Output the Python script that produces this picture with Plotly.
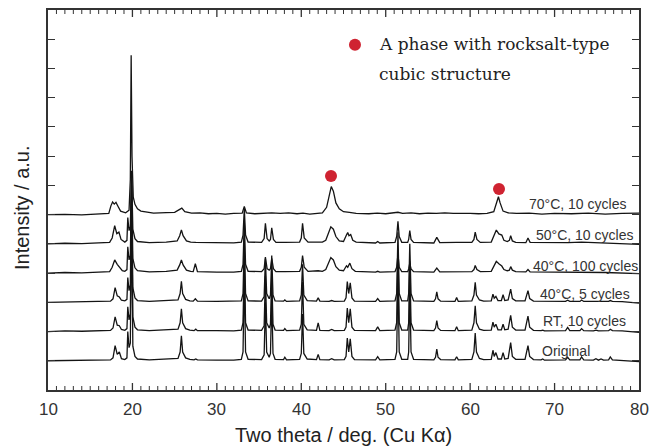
import plotly.graph_objects as go

# ---------------- data (2θ in degrees, intensity relative to each pattern's baseline) ----------------
pattern_names = ["Original", "RT, 10 cycles", "40°C, 5 cycles", "40°C, 100 cycles", "50°C, 10 cycles", "70°C, 10 cycles"]
baseline_offsets = [1, 2, 3, 4, 5, 6]

original = [
    (10.0, 0.0), (12.0, 0.01), (14.0, 0.0), (16.0, 0.02), (17.4, 0.03),
    (17.7, 0.1), (17.95, 0.52), (18.2, 0.22), (18.45, 0.3), (18.7, 0.07), (19.1, 0.04),
    (19.35, 0.1), (19.45, 1.0), (19.6, 0.45), (19.75, 0.6), (19.9, 5.0), (20.05, 0.5), (20.3, 0.15), (20.6, 0.06),
    (22.0, 0.03), (24.0, 0.05), (25.4, 0.08), (25.65, 0.3), (25.8, 0.85), (25.95, 0.3), (26.3, 0.1), (26.8, 0.05),
    (27.3, 0.03), (27.5, 0.06), (27.7, 0.03), (30.0, 0.02), (32.0, 0.02), (32.9, 0.05),
    (33.1, 0.3), (33.25, 3.0), (33.4, 0.3), (33.7, 0.05),
    (35.3, 0.04), (35.6, 0.2), (35.75, 2.0), (35.9, 0.3), (36.2, 0.12), (36.35, 0.25), (36.5, 2.2), (36.65, 0.25), (36.9, 0.05),
    (37.9, 0.04), (38.05, 0.12), (38.25, 0.03),
    (39.8, 0.05), (40.0, 0.25), (40.15, 1.6), (40.3, 0.25), (40.7, 0.06),
    (41.8, 0.04), (42.0, 0.22), (42.2, 0.04), (43.3, 0.03), (43.6, 0.07), (43.9, 0.03),
    (45.1, 0.04), (45.3, 0.15), (45.45, 0.78), (45.62, 0.3), (45.8, 0.75), (46.0, 0.15), (46.3, 0.04),
    (48.8, 0.03), (49.05, 0.14), (49.3, 0.03),
    (51.1, 0.05), (51.3, 0.3), (51.45, 3.0), (51.6, 0.3), (51.9, 0.05),
    (52.6, 0.05), (52.72, 0.3), (52.85, 2.6), (53.0, 0.3), (53.3, 0.05),
    (55.7, 0.03), (55.9, 0.12), (56.05, 0.4), (56.2, 0.12), (56.5, 0.04),
    (58.2, 0.03), (58.4, 0.14), (58.6, 0.03),
    (60.2, 0.05), (60.45, 0.3), (60.6, 0.95), (60.75, 0.3), (61.1, 0.08), (61.6, 0.04),
    (62.5, 0.05), (62.7, 0.36), (62.85, 0.15), (63.05, 0.28), (63.3, 0.06), (63.7, 0.06), (63.9, 0.28), (64.1, 0.06),
    (64.5, 0.08), (64.8, 0.62), (65.0, 0.15), (65.4, 0.05),
    (66.5, 0.05), (66.85, 0.52), (67.05, 0.15), (67.5, 0.04),
    (68.4, 0.03), (68.6, 0.06), (68.8, 0.02), (70.0, 0.02), (71.3, 0.03), (71.55, 0.12), (71.8, 0.03),
    (73.0, 0.03), (73.2, 0.13), (73.45, 0.03), (74.6, 0.02), (74.9, 0.07), (75.2, 0.02), (75.5, 0.06), (75.8, 0.02),
    (76.4, 0.03), (76.6, 0.13), (76.85, 0.03), (78.0, 0.01), (80.0, -0.03),
]

rt_10 = [
    (10.0, 0.0), (12.0, 0.02), (14.0, 0.01), (16.0, 0.02), (17.4, 0.04),
    (17.7, 0.12), (17.95, 0.5), (18.2, 0.22), (18.45, 0.2), (18.7, 0.07), (19.1, 0.04),
    (19.35, 0.1), (19.45, 0.85), (19.6, 0.4), (19.75, 0.6), (19.9, 4.5), (20.05, 0.5), (20.3, 0.15), (20.6, 0.06),
    (22.0, 0.03), (24.0, 0.05), (25.4, 0.08), (25.65, 0.3), (25.8, 0.78), (25.95, 0.3), (26.3, 0.1), (26.8, 0.05),
    (27.3, 0.03), (27.5, 0.08), (27.7, 0.03), (30.0, 0.03), (32.0, 0.02), (32.9, 0.05),
    (33.1, 0.3), (33.25, 2.6), (33.4, 0.3), (33.7, 0.05),
    (35.3, 0.04), (35.6, 0.2), (35.75, 1.9), (35.9, 0.3), (36.2, 0.12), (36.35, 0.25), (36.5, 2.0), (36.65, 0.25), (36.9, 0.05),
    (37.9, 0.04), (38.05, 0.1), (38.25, 0.03),
    (39.8, 0.05), (40.0, 0.25), (40.15, 1.7), (40.3, 0.25), (40.7, 0.06),
    (41.8, 0.04), (42.0, 0.3), (42.2, 0.04), (43.3, 0.03), (43.6, 0.07), (43.9, 0.03),
    (45.1, 0.04), (45.3, 0.15), (45.45, 0.8), (45.62, 0.3), (45.8, 0.78), (46.0, 0.15), (46.3, 0.04),
    (48.8, 0.03), (49.05, 0.16), (49.3, 0.03),
    (51.1, 0.05), (51.3, 0.3), (51.45, 2.8), (51.6, 0.3), (51.9, 0.05),
    (52.6, 0.05), (52.72, 0.3), (52.85, 2.4), (53.0, 0.3), (53.3, 0.05),
    (55.7, 0.03), (55.9, 0.12), (56.05, 0.37), (56.2, 0.12), (56.5, 0.04),
    (58.2, 0.03), (58.4, 0.16), (58.6, 0.03),
    (60.2, 0.05), (60.45, 0.3), (60.6, 0.88), (60.75, 0.3), (61.1, 0.08), (61.6, 0.04),
    (62.5, 0.05), (62.7, 0.32), (62.85, 0.15), (63.05, 0.25), (63.3, 0.06), (63.7, 0.06), (63.9, 0.25), (64.1, 0.06),
    (64.5, 0.08), (64.8, 0.55), (65.0, 0.15), (65.4, 0.05),
    (66.5, 0.05), (66.85, 0.53), (67.05, 0.15), (67.5, 0.04),
    (68.4, 0.03), (68.6, 0.05), (68.8, 0.02), (70.0, 0.03), (71.3, 0.03), (71.55, 0.14), (71.8, 0.03),
    (73.0, 0.03), (73.2, 0.1), (73.45, 0.03), (74.6, 0.02), (74.9, 0.05), (75.2, 0.02),
    (76.4, 0.03), (76.6, 0.08), (76.85, 0.03), (78.0, 0.02), (80.0, -0.03),
]

c40_5 = [
    (10.0, 0.0), (12.0, 0.01), (14.0, 0.02), (16.0, 0.02), (17.4, 0.04),
    (17.7, 0.12), (17.95, 0.5), (18.2, 0.22), (18.45, 0.18), (18.7, 0.07), (19.1, 0.05),
    (19.35, 0.1), (19.45, 0.85), (19.6, 0.4), (19.75, 0.6), (19.9, 4.0), (20.05, 0.5), (20.3, 0.15), (20.6, 0.06),
    (22.0, 0.03), (24.0, 0.05), (25.4, 0.08), (25.65, 0.3), (25.8, 0.72), (25.95, 0.3), (26.3, 0.1), (26.8, 0.05),
    (27.2, 0.04), (27.45, 0.12), (27.7, 0.04), (30.0, 0.03), (32.0, 0.03), (32.9, 0.05),
    (33.1, 0.3), (33.25, 2.2), (33.4, 0.3), (33.7, 0.05),
    (35.3, 0.04), (35.6, 0.2), (35.75, 1.5), (35.9, 0.3), (36.2, 0.12), (36.35, 0.25), (36.5, 1.6), (36.65, 0.25), (36.9, 0.05),
    (37.9, 0.04), (38.05, 0.08), (38.25, 0.03),
    (39.8, 0.05), (40.0, 0.25), (40.15, 1.3), (40.3, 0.25), (40.7, 0.06),
    (41.8, 0.04), (42.0, 0.15), (42.2, 0.04), (43.3, 0.03), (43.6, 0.06), (43.9, 0.03),
    (45.1, 0.04), (45.3, 0.15), (45.45, 0.71), (45.62, 0.3), (45.8, 0.67), (46.0, 0.15), (46.3, 0.04),
    (48.8, 0.03), (49.05, 0.13), (49.3, 0.03),
    (51.1, 0.05), (51.3, 0.3), (51.45, 2.4), (51.6, 0.3), (51.9, 0.05),
    (52.6, 0.05), (52.72, 0.3), (52.85, 2.0), (53.0, 0.3), (53.3, 0.05),
    (55.7, 0.03), (55.9, 0.12), (56.05, 0.36), (56.2, 0.12), (56.5, 0.04),
    (58.2, 0.03), (58.4, 0.16), (58.6, 0.03),
    (60.2, 0.05), (60.45, 0.25), (60.6, 0.68), (60.75, 0.25), (61.1, 0.08), (61.6, 0.04),
    (62.5, 0.05), (62.7, 0.28), (62.85, 0.14), (63.05, 0.2), (63.3, 0.06), (63.7, 0.06), (63.9, 0.26), (64.1, 0.06),
    (64.5, 0.08), (64.8, 0.45), (65.0, 0.13), (65.4, 0.05),
    (66.5, 0.05), (66.85, 0.4), (67.05, 0.13), (67.5, 0.04),
    (68.6, 0.04), (70.0, 0.03), (71.3, 0.03), (71.55, 0.07), (71.8, 0.03),
    (73.0, 0.03), (73.2, 0.08), (73.45, 0.03), (75.0, 0.02), (76.4, 0.03), (76.6, 0.06), (76.85, 0.03),
    (78.0, 0.02), (80.0, -0.03),
]

c40_100 = [
    (10.0, 0.0), (12.0, 0.02), (14.0, 0.01), (16.0, 0.03), (17.3, 0.05),
    (17.6, 0.2), (17.9, 0.45), (18.2, 0.3), (18.5, 0.18), (18.8, 0.08), (19.1, 0.06),
    (19.35, 0.12), (19.45, 0.9), (19.6, 0.45), (19.75, 0.6), (19.9, 3.2), (20.05, 0.5), (20.3, 0.18), (20.6, 0.08),
    (22.0, 0.04), (24.0, 0.06), (25.3, 0.1), (25.6, 0.28), (25.8, 0.45), (26.0, 0.28), (26.4, 0.1), (26.9, 0.06),
    (27.2, 0.05), (27.45, 0.32), (27.7, 0.05), (30.0, 0.03), (32.0, 0.03), (32.9, 0.06),
    (33.1, 0.3), (33.25, 1.8), (33.4, 0.3), (33.7, 0.06),
    (35.3, 0.05), (35.6, 0.15), (35.75, 0.55), (35.95, 0.15), (36.2, 0.1), (36.35, 0.15), (36.5, 0.5), (36.7, 0.15), (37.0, 0.05),
    (38.05, 0.05), (39.8, 0.06), (40.0, 0.2), (40.15, 0.6), (40.35, 0.2), (40.8, 0.06),
    (42.0, 0.08), (42.5, 0.06), (42.9, 0.12), (43.2, 0.35), (43.5, 0.53), (43.8, 0.45), (44.1, 0.22), (44.5, 0.1),
    (45.0, 0.08), (45.35, 0.25), (45.5, 0.2), (45.75, 0.34), (46.0, 0.15), (46.4, 0.06),
    (48.8, 0.03), (49.05, 0.06), (49.3, 0.03),
    (51.1, 0.05), (51.3, 0.2), (51.45, 0.65), (51.6, 0.2), (51.9, 0.05),
    (52.6, 0.05), (52.72, 0.14), (52.85, 0.34), (53.0, 0.14), (53.3, 0.05),
    (55.7, 0.03), (56.05, 0.17), (56.4, 0.04),
    (58.4, 0.05), (60.2, 0.05), (60.45, 0.12), (60.6, 0.26), (60.8, 0.12), (61.2, 0.05),
    (62.5, 0.06), (62.8, 0.25), (63.1, 0.4), (63.4, 0.32), (63.75, 0.24), (64.0, 0.12), (64.4, 0.08),
    (64.65, 0.1), (64.8, 0.22), (65.0, 0.1), (65.4, 0.05),
    (66.6, 0.04), (66.85, 0.12), (67.1, 0.04), (70.0, 0.03), (73.2, 0.04), (76.0, 0.02), (80.0, -0.02),
]

c50_10 = [
    (10.0, 0.0), (12.0, 0.02), (14.0, 0.01), (16.0, 0.03), (17.3, 0.05),
    (17.6, 0.2), (17.9, 0.62), (18.15, 0.35), (18.4, 0.4), (18.65, 0.15), (19.1, 0.06),
    (19.35, 0.12), (19.45, 0.9), (19.6, 0.45), (19.75, 0.6), (19.9, 2.5), (20.05, 0.5), (20.3, 0.18), (20.6, 0.08),
    (22.0, 0.04), (24.0, 0.06), (25.3, 0.1), (25.6, 0.28), (25.8, 0.48), (26.0, 0.28), (26.4, 0.1), (26.9, 0.06),
    (27.5, 0.05), (30.0, 0.03), (32.0, 0.03), (32.9, 0.06),
    (33.1, 0.3), (33.25, 1.2), (33.4, 0.3), (33.7, 0.06),
    (35.3, 0.05), (35.6, 0.18), (35.75, 0.7), (35.95, 0.18), (36.2, 0.1), (36.35, 0.15), (36.5, 0.55), (36.7, 0.15), (37.0, 0.05),
    (38.05, 0.05), (39.8, 0.06), (40.0, 0.2), (40.15, 0.7), (40.35, 0.2), (40.8, 0.06),
    (42.0, 0.06), (42.5, 0.06), (42.9, 0.12), (43.2, 0.38), (43.5, 0.58), (43.8, 0.5), (44.1, 0.25), (44.5, 0.1),
    (45.0, 0.08), (45.35, 0.3), (45.5, 0.39), (45.65, 0.28), (45.85, 0.32), (46.1, 0.12), (46.5, 0.06),
    (48.8, 0.03), (49.05, 0.08), (49.3, 0.03),
    (51.1, 0.05), (51.3, 0.25), (51.45, 0.77), (51.6, 0.25), (51.9, 0.05),
    (52.6, 0.05), (52.72, 0.15), (52.85, 0.45), (53.0, 0.15), (53.3, 0.05),
    (55.7, 0.03), (56.05, 0.22), (56.4, 0.04),
    (58.4, 0.05), (60.2, 0.05), (60.45, 0.15), (60.6, 0.4), (60.8, 0.15), (61.2, 0.05),
    (62.5, 0.06), (62.8, 0.25), (63.1, 0.47), (63.4, 0.34), (63.75, 0.3), (64.0, 0.12), (64.4, 0.08),
    (64.65, 0.12), (64.8, 0.28), (65.0, 0.1), (65.4, 0.05),
    (66.6, 0.04), (66.85, 0.2), (67.1, 0.05), (70.0, 0.03), (71.6, 0.04), (73.2, 0.06), (76.0, 0.02), (80.0, -0.02),
]

c70_10 = [
    (10.0, 0.0), (12.0, 0.01), (14.0, -0.01), (16.0, 0.02), (17.2, 0.04),
    (17.45, 0.3), (17.65, 0.43), (17.85, 0.36), (18.05, 0.42), (18.3, 0.28), (18.6, 0.12), (19.2, 0.06),
    (19.6, 0.15), (19.75, 1.2), (19.85, 5.45), (19.95, 2.0), (20.1, 0.6), (20.3, 0.35), (20.6, 0.2),
    (21.0, 0.12), (21.5, 0.1), (22.5, 0.05), (24.0, 0.07), (25.0, 0.08), (25.6, 0.18), (25.85, 0.22), (26.2, 0.1),
    (27.0, 0.05), (28.0, 0.06), (29.0, 0.03), (30.0, 0.04), (31.0, 0.02), (32.0, 0.04),
    (33.0, 0.05), (33.25, 0.28), (33.5, 0.06), (34.5, 0.03), (35.5, 0.05), (36.5, 0.06), (37.5, 0.04),
    (38.5, 0.06), (39.5, 0.03), (40.2, 0.05), (41.0, 0.02), (42.0, 0.03), (42.5, 0.06),
    (43.0, 0.25), (43.3, 0.7), (43.55, 0.96), (43.8, 0.8), (44.1, 0.4), (44.5, 0.2), (45.0, 0.1),
    (45.7, 0.08), (46.5, 0.04), (48.0, 0.03), (49.0, 0.05), (50.0, 0.03), (51.45, 0.08), (52.0, 0.04),
    (53.0, 0.06), (54.0, 0.03), (55.0, 0.05), (56.0, 0.04), (57.0, 0.06), (58.0, 0.04), (59.0, 0.05),
    (60.0, 0.04), (61.0, 0.03), (62.0, 0.04), (62.8, 0.1), (63.15, 0.4), (63.35, 0.61), (63.55, 0.4),
    (63.9, 0.12), (64.5, 0.06), (65.5, 0.04), (67.0, 0.05), (68.5, 0.02), (70.0, 0.04), (72.0, 0.03),
    (74.0, 0.05), (76.0, 0.02), (78.0, 0.04), (80.0, 0.05),
]

patterns = [original, rt_10, c40_5, c40_100, c50_10, c70_10]

# rocksalt-type phase reflections (2θ, intensity level)
rocksalt_x = [43.52, 63.42]
rocksalt_y = [7.32, 6.88]

# label anchor positions (2θ, intensity level)
label_x = [68.27, 68.39, 68.04, 67.2, 67.56, 66.73]
label_y = [1.33, 2.35, 3.27, 4.25, 5.31, 6.36]

x_tick_labels = [10, 20, 30, 40, 50, 60, 70, 80]
x_minor_ticks = [v for v in range(11, 80) if v % 10 != 0]

# ---------------- figure ----------------
fig = go.Figure()

for pts, off in zip(patterns, baseline_offsets):
    fig.add_trace(go.Scatter(
        x=[p[0] for p in pts], y=[p[1] + off for p in pts],
        mode="lines", line=dict(color="#141414", width=1.3),
        showlegend=False, hoverinfo="skip"))

fig.add_trace(go.Scatter(
    x=rocksalt_x, y=rocksalt_y, mode="markers",
    marker=dict(color="#cf2331", size=12), showlegend=False))

# legend marker
fig.add_trace(go.Scatter(
    x=[46.36], y=[11.81], mode="markers",
    marker=dict(color="#cf2331", size=12), showlegend=False))

label_font = dict(family="Liberation Sans, Arial, sans-serif", size=14, color="#333333")
for name, lx, ly in zip(pattern_names, label_x, label_y):
    fig.add_annotation(x=lx, y=ly, text=name, showarrow=False, xanchor="left", yanchor="middle",
                       font=label_font)

legend_font = dict(family="DejaVu Serif, serif", size=17, color="#222222")
fig.add_annotation(x=48.97, y=11.84, text="A phase with rocksalt-type", showarrow=False,
                   xanchor="left", yanchor="middle", font=legend_font)
fig.add_annotation(x=48.97, y=10.82, text="cubic structure", showarrow=False,
                   xanchor="left", yanchor="middle", font=legend_font)

# x tick labels (placed below the axis)
for v in x_tick_labels:
    fig.add_annotation(x=v, xref="x", yref="paper", y=0, yshift=-19, text=str(v), showarrow=False,
                       xanchor="center", yanchor="middle",
                       font=dict(family="Liberation Sans, Arial, sans-serif", size=17, color="#333333"))

# inward x tick marks on bottom and top frame (major every 10, minor every 1)
major_line = dict(color="#333333", width=1.3)
minor_line = dict(color="#333333", width=1)
for v in x_tick_labels[1:-1]:
    fig.add_shape(type="line", xref="x", yref="paper", x0=v, x1=v, ysizemode="pixel", yanchor=0,
                  y0=0, y1=7, line=major_line)
    fig.add_shape(type="line", xref="x", yref="paper", x0=v, x1=v, ysizemode="pixel", yanchor=1,
                  y0=0, y1=-7, line=major_line)
for v in x_minor_ticks:
    fig.add_shape(type="line", xref="x", yref="paper", x0=v, x1=v, ysizemode="pixel", yanchor=0,
                  y0=0, y1=4, line=minor_line)
    fig.add_shape(type="line", xref="x", yref="paper", x0=v, x1=v, ysizemode="pixel", yanchor=1,
                  y0=0, y1=-4, line=minor_line)

# axis titles
fig.add_annotation(xref="paper", yref="paper", x=0.5, y=0, yshift=-45,
                   text="Two theta / deg. (Cu Kα)", showarrow=False, xanchor="center", yanchor="middle",
                   font=dict(family="Liberation Sans, Arial, sans-serif", size=20, color="#222222"))
fig.add_annotation(xref="paper", yref="paper", x=0, xshift=-26, y=0.5, yshift=-8,
                   text="Intensity / a.u.", showarrow=False, textangle=-90, xanchor="center", yanchor="middle",
                   font=dict(family="Liberation Sans, Arial, sans-serif", size=20, color="#222222"))

fig.update_layout(
    width=659, height=448,
    margin=dict(l=48, r=20, t=8, b=58),
    paper_bgcolor="white", plot_bgcolor="white",
    xaxis=dict(range=[10, 80], tickmode="linear", tick0=10, dtick=10, ticks="",
               showline=True, linecolor="#333333", linewidth=1.5, mirror=True,
               showgrid=False, zeroline=False, showticklabels=False),
    yaxis=dict(range=[0, 13], tick0=0, dtick=1, ticks="inside", ticklen=7, tickwidth=1.2,
               tickcolor="#333333", showline=True, linecolor="#333333", linewidth=1.5, mirror="ticks",
               showgrid=False, zeroline=False, showticklabels=False),
)

fig.write_html("out.html")
